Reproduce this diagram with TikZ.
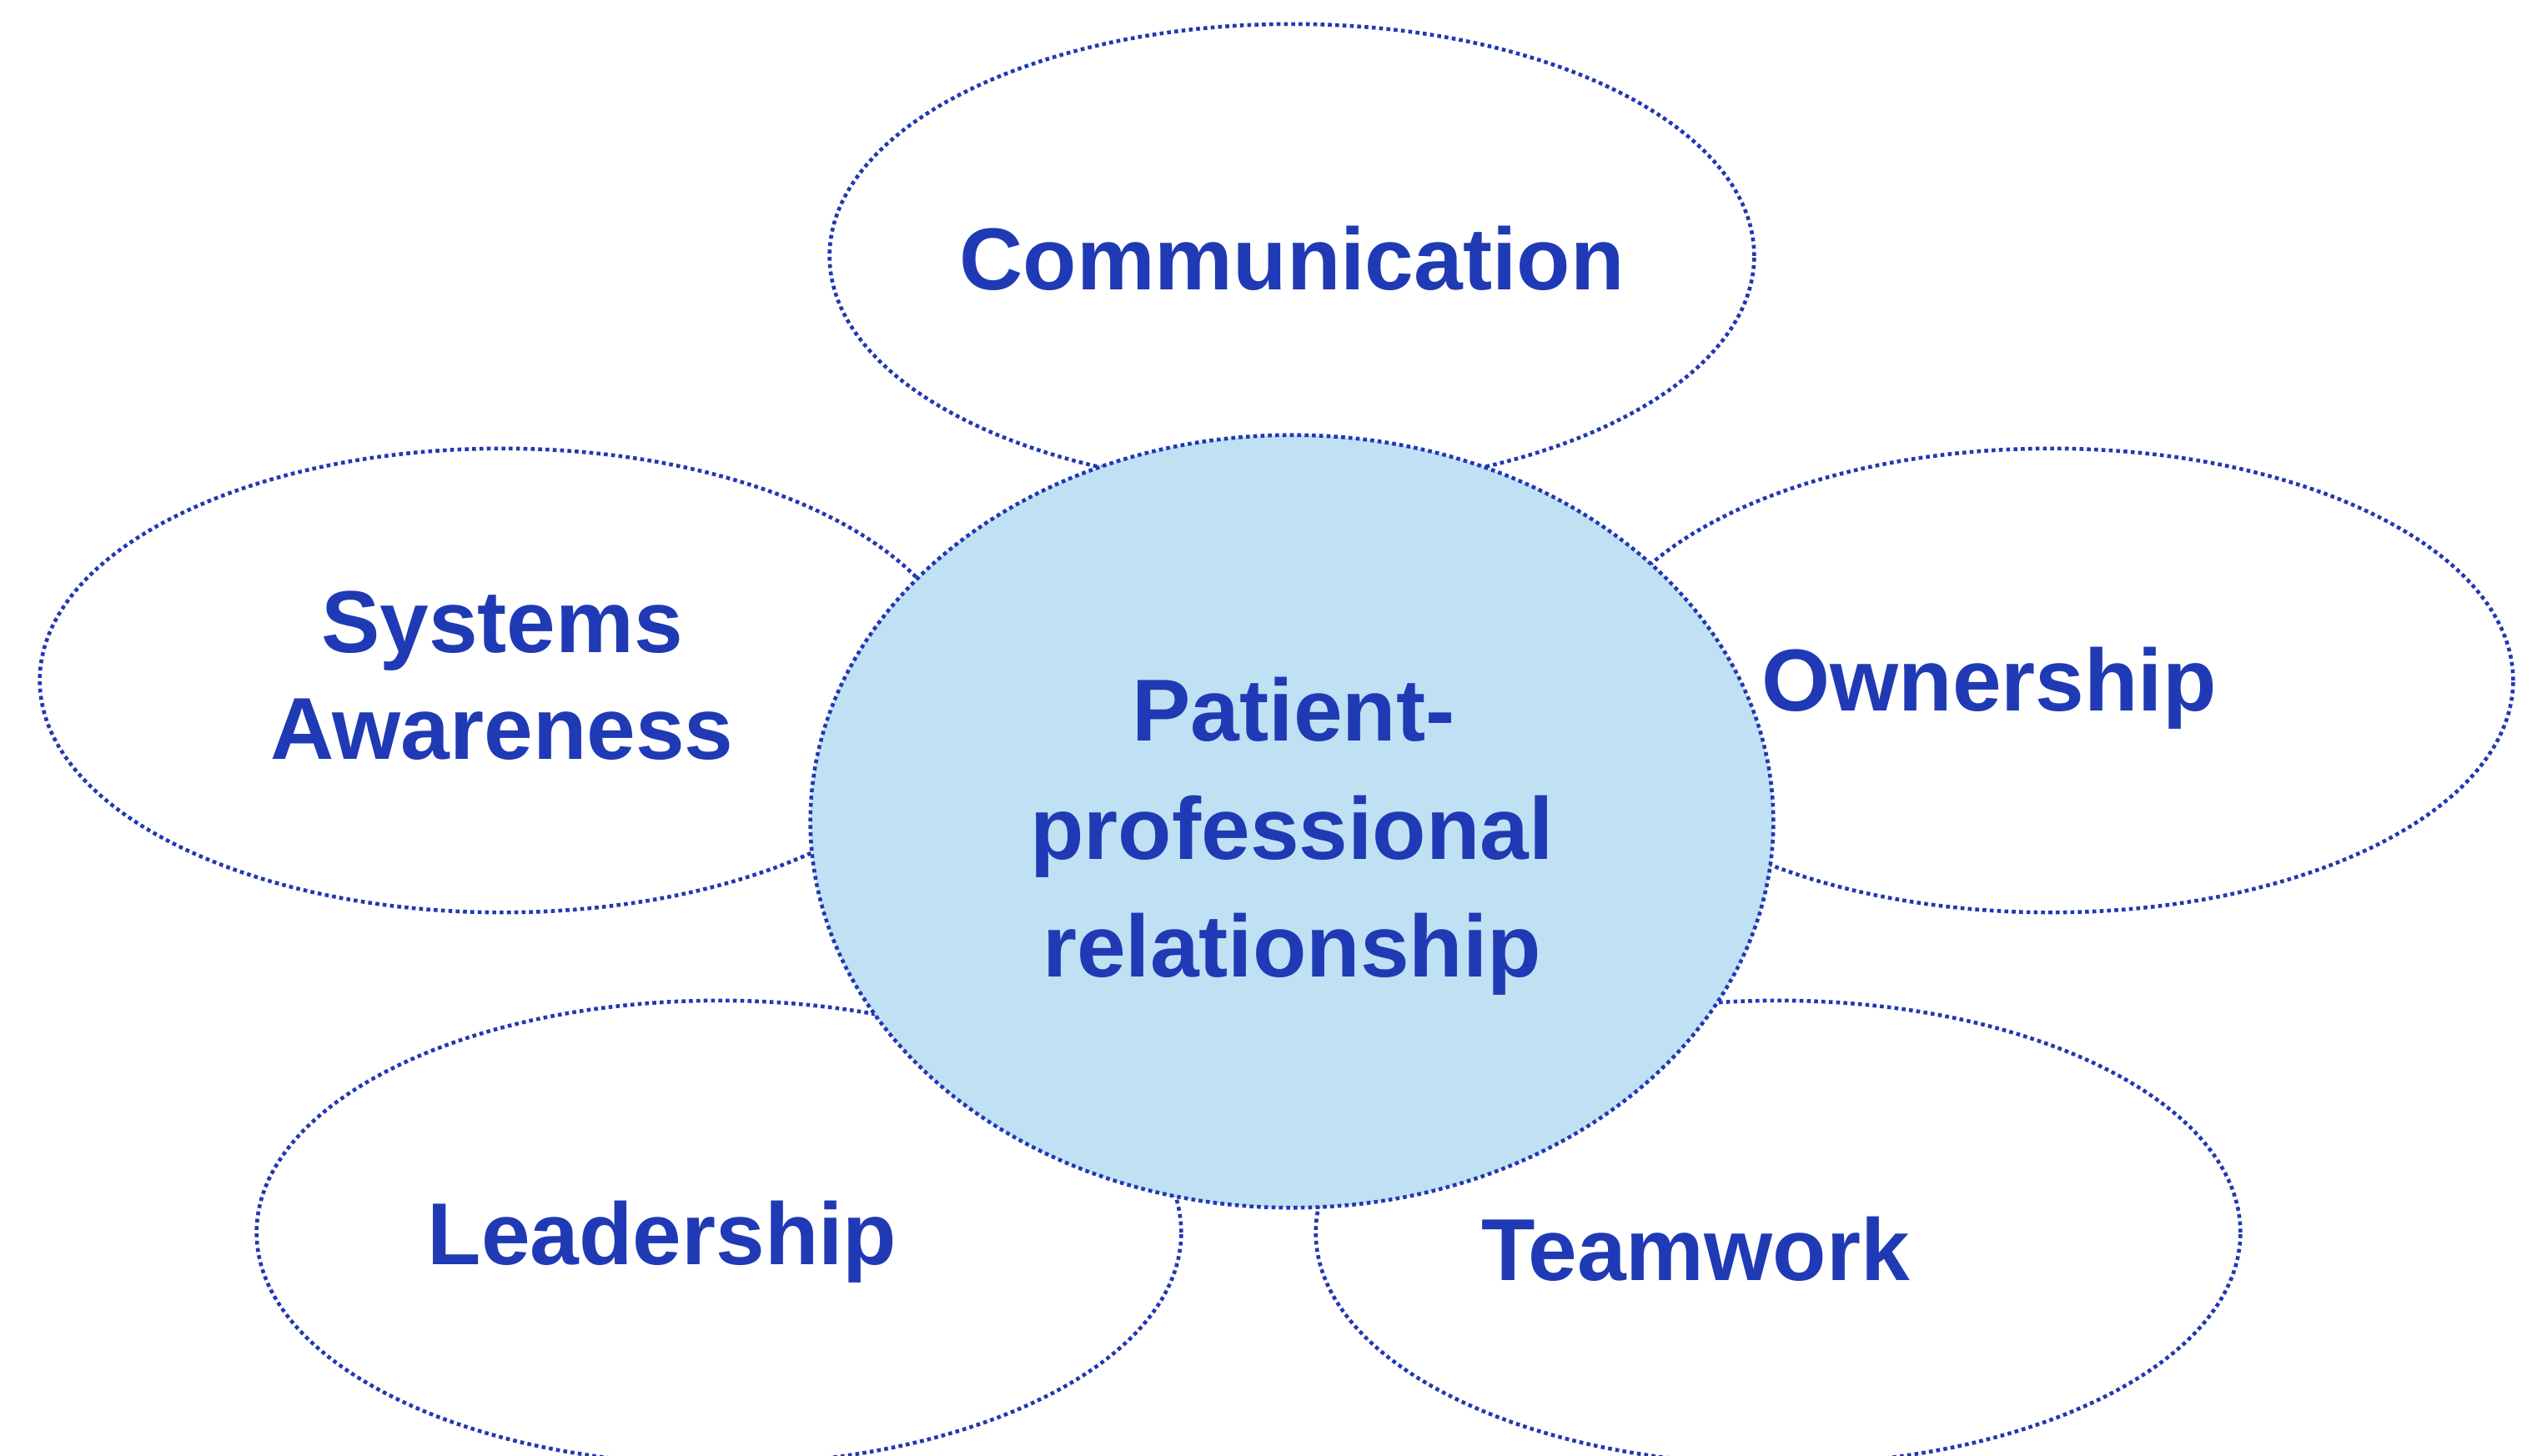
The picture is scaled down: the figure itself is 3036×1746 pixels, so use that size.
\documentclass[tikz,border=0pt]{standalone}
\usepackage{fontspec}
\setmainfont{Liberation Sans}
\usetikzlibrary{shapes.geometric}
\definecolor{txtblue}{RGB}{31,58,180}
\definecolor{lineblue}{RGB}{33,55,180}
\definecolor{fillblue}{RGB}{192,224,244}
\begin{document}
\begin{tikzpicture}[x=0.01cm,y=-0.01cm,
  dotline/.style={draw=lineblue, line width=1.3pt, dash pattern=on 1.3pt off 1.2pt},
  petal/.style={ellipse, dotline, inner sep=0pt, minimum width=11.08cm, minimum height=5.56cm},
  core/.style={ellipse, dotline, fill=fillblue, inner sep=0pt, minimum width=11.54cm, minimum height=9.26cm},
  lbl/.style={anchor=base, inner sep=0pt, text=txtblue, font=\bfseries\fontsize{30}{36}\selectfont}]
\useasboundingbox (0,0) rectangle (3036,1746);
% petals
\node[petal] (comm) at (1549,307) {};
\node[petal] (sys) at (602,816) {};
\node[petal] (own) at (2459,816) {};
\node[petal] (lead) at (862,1478) {};
\node[petal] (team) at (2132,1478) {};
% centre
\node[core] (centre) at (1549,985) {};
% labels
\node[lbl] (tcomm) at (1549,348) {Communication};
\node[lbl] (tsys1) at (602,782) {Systems};
\node[lbl] (tsys2) at (602,910) {Awareness};
\node[lbl] (town) at (2385,852) {Ownership};
\node[lbl] (tc1) at (1551,889) {Patient-};
\node[lbl] (tc2) at (1549,1030) {professional};
\node[lbl] (tc3) at (1549,1171) {relationship};
\node[lbl] (tlead) at (794,1516) {Leadership};
\node[lbl] (tteam) at (2033,1535) {Teamwork};
\end{tikzpicture}
\end{document}
